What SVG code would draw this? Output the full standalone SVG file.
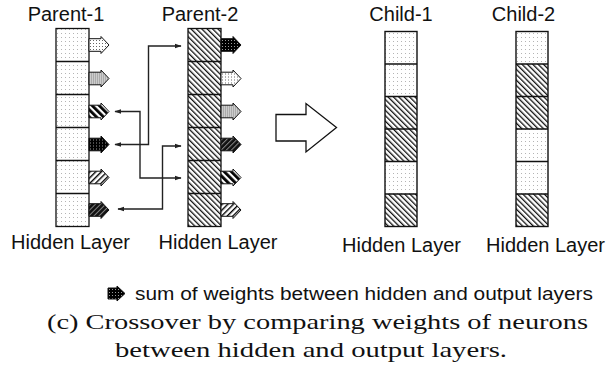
<svg xmlns="http://www.w3.org/2000/svg" width="609" height="380" viewBox="0 0 609 380">
<style>
.lbl{font-family:"Liberation Sans",Arial,sans-serif;font-size:20px;fill:#111;text-anchor:middle}
.cap{font-family:"Liberation Serif","Times New Roman",serif;font-size:22px;fill:#111}
.cell{stroke:#111;stroke-width:1.3}
.col{fill:none;stroke:#111;stroke-width:1.4}
.sa{stroke:#111;stroke-width:1}
.con{fill:none;stroke:#222;stroke-width:1.4}
</style>
<defs>
<pattern id="dots" width="4" height="4" patternUnits="userSpaceOnUse"><rect width="4" height="4" fill="#fff"/><rect x="1" y="1" width="1" height="1" fill="#b4b4b4"/></pattern>
<pattern id="hatch" width="3.8" height="3.8" patternUnits="userSpaceOnUse" patternTransform="rotate(-45)"><rect width="3.8" height="3.8" fill="#fff"/><rect x="0" y="0" width="1.3" height="3.8" fill="#111"/></pattern>
<pattern id="pA" width="3" height="3" patternUnits="userSpaceOnUse"><rect width="3" height="3" fill="#fff"/><rect x="1" y="1" width="1" height="1" fill="#666"/></pattern>
<pattern id="pB" width="2" height="2" patternUnits="userSpaceOnUse"><rect width="2" height="2" fill="#ccc"/><rect width="1" height="1" fill="#888"/></pattern>
<pattern id="pC" width="5" height="5" patternUnits="userSpaceOnUse" patternTransform="rotate(-45)"><rect width="5" height="5" fill="#fff"/><rect width="2.8" height="5" fill="#000"/></pattern>
<pattern id="pD" width="3" height="3" patternUnits="userSpaceOnUse"><rect width="3" height="3" fill="#000"/><rect x="1" y="1" width="1" height="1" fill="#999"/></pattern>
<pattern id="pE" width="4" height="4" patternUnits="userSpaceOnUse" patternTransform="rotate(45)"><rect width="4" height="4" fill="#fff"/><rect width="1.4" height="4" fill="#000"/></pattern>
<pattern id="pF" width="3.6" height="3.6" patternUnits="userSpaceOnUse" patternTransform="rotate(45)"><rect width="3.6" height="3.6" fill="#111"/><rect width="1" height="3.6" fill="#888"/></pattern>
<path id="sarrow" d="M0,-6.3 H12 V-8.5 L20,0 L12,8.5 V6.3 H0 Z"/>
<marker id="ah" viewBox="0 0 10 10" refX="9" refY="5" markerWidth="5" markerHeight="5" orient="auto-start-reverse"><path d="M0,1.5 L10,5 L0,8.5 Z" fill="#222"/></marker>
</defs>

<g id="parent1">
<text class="lbl" x="66" y="21">Parent-1</text>
<rect class="cell" x="56" y="28.5" width="33" height="198" fill="url(#dots)"/>
<path class="cell" d="M56,61.5H89M56,94.5H89M56,127.5H89M56,160.5H89M56,193.5H89"/>
<use href="#sarrow" x="89" y="45" fill="url(#pA)" class="sa"/>
<use href="#sarrow" x="89" y="78.5" fill="url(#pB)" class="sa"/>
<use href="#sarrow" x="89" y="111.5" fill="url(#pC)" class="sa"/>
<use href="#sarrow" x="89" y="144.5" fill="url(#pD)" class="sa"/>
<use href="#sarrow" x="89" y="177.5" fill="url(#pE)" class="sa"/>
<use href="#sarrow" x="89" y="210" fill="url(#pF)" class="sa"/>
<text class="lbl" x="70.5" y="249">Hidden Layer</text>
</g>

<g id="parent2">
<text class="lbl" x="200" y="21">Parent-2</text>
<rect class="cell" x="188" y="28.5" width="33" height="198" fill="url(#hatch)"/>
<path class="cell" d="M188,61.5H221M188,94.5H221M188,127.5H221M188,160.5H221M188,193.5H221"/>
<use href="#sarrow" x="221" y="45" fill="url(#pD)" class="sa"/>
<use href="#sarrow" x="221" y="78.5" fill="url(#pA)" class="sa"/>
<use href="#sarrow" x="221" y="111.5" fill="url(#pB)" class="sa"/>
<use href="#sarrow" x="221" y="144.5" fill="url(#pF)" class="sa"/>
<use href="#sarrow" x="221" y="177.5" fill="url(#pC)" class="sa"/>
<use href="#sarrow" x="221" y="210" fill="url(#pE)" class="sa"/>
<text class="lbl" x="218" y="249">Hidden Layer</text>
</g>

<g id="connectors">
<path class="con" d="M115,144.5 H148.5 V46 H181" marker-start="url(#ah)" marker-end="url(#ah)"/>
<path class="con" d="M115,111.5 H140 V178 H181" marker-start="url(#ah)" marker-end="url(#ah)"/>
<path class="con" d="M118,209 H162.5 V146 H181" marker-start="url(#ah)" marker-end="url(#ah)"/>
</g>

<g id="big-arrow">
<path d="M276,114.5 H306 V103.5 L336.5,127.5 L306,152 V141 H276 Z" fill="#fff" stroke="#111" stroke-width="1.3"/>
</g>

<g id="child1">
<text class="lbl" x="401" y="21">Child-1</text>
<rect x="385" y="31.5" width="32" height="32.5" fill="url(#dots)"/>
<rect x="385" y="64" width="32" height="32.5" fill="url(#dots)"/>
<rect x="385" y="96.5" width="32" height="32.5" fill="url(#hatch)"/>
<rect x="385" y="129" width="32" height="32.5" fill="url(#hatch)"/>
<rect x="385" y="161.5" width="32" height="32.5" fill="url(#dots)"/>
<rect x="385" y="194" width="32" height="32.5" fill="url(#hatch)"/>
<rect class="col" x="385" y="31.5" width="32" height="195"/>
<path class="cell" d="M385,64H417M385,96.5H417M385,129H417M385,161.5H417M385,194H417"/>
<text class="lbl" x="401.5" y="252">Hidden Layer</text>
</g>

<g id="child2">
<text class="lbl" x="523.5" y="21">Child-2</text>
<rect x="516" y="31.5" width="32" height="32.5" fill="url(#dots)"/>
<rect x="516" y="64" width="32" height="32.5" fill="url(#hatch)"/>
<rect x="516" y="96.5" width="32" height="32.5" fill="url(#hatch)"/>
<rect x="516" y="129" width="32" height="32.5" fill="url(#dots)"/>
<rect x="516" y="161.5" width="32" height="32.5" fill="url(#dots)"/>
<rect x="516" y="194" width="32" height="32.5" fill="url(#hatch)"/>
<rect class="col" x="516" y="31.5" width="32" height="195"/>
<path class="cell" d="M516,64H548M516,96.5H548M516,129H548M516,161.5H548M516,194H548"/>
<text class="lbl" x="545.5" y="252">Hidden Layer</text>
</g>

<g id="legend">
<path d="M108,288 H117 V286 L125,293.5 L117,301 V299 H108 Z" fill="url(#pD)" stroke="#111" stroke-width="1"/>
<text x="135" y="300" font-family="Liberation Sans, Arial, sans-serif" font-size="17.5" fill="#111" textLength="458" lengthAdjust="spacingAndGlyphs">sum of weights between hidden and output layers</text>
</g>

<g id="caption">
<text class="cap" x="47" y="329" textLength="541" lengthAdjust="spacingAndGlyphs">(c) Crossover by comparing weights of neurons</text>
<text class="cap" x="115" y="357" textLength="392" lengthAdjust="spacingAndGlyphs">between hidden and output layers.</text>
</g>
</svg>
